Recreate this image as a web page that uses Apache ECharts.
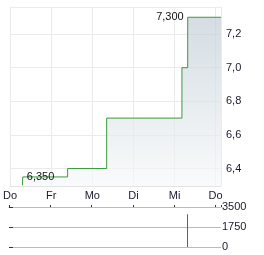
<!DOCTYPE html>
<html><head><meta charset="utf-8">
<script src="https://cdn.jsdelivr.net/npm/echarts@6/dist/echarts.min.js"></script>
<style>html,body{margin:0;padding:0;background:#fff}#c{width:264px;height:255px}</style>
</head><body><div id="c"></div>
<script>
var days = ['Do', 'Fr', 'Mo', 'Di', 'Mi', 'Do'];
var priceX = [0.30, 0.31, 1.40, 2.35, 4.18, 4.32, 5.13];
var priceY = [6.30, 6.35, 6.40, 6.70, 7.00, 7.30, 7.30];
var volX = [4.32];
var volY = [2870];
var volTicks = [0, 1750, 3500];

var fmt = function (v, d) { return v.toFixed(d).replace('.', ','); };
var priceData = priceX.map(function (x, i) { return [x, priceY[i]]; });
var volData = volX.map(function (x, i) { return [x, volY[i]]; });

var font = 'Liberation Sans, Arial, sans-serif';
var chart = echarts.init(document.getElementById('c'), null, { renderer: 'canvas' });
chart.setOption({
  animation: false,
  textStyle: { fontFamily: font },
  grid: [
    { left: 9, right: 43, top: 7, height: 179 },
    { left: 9, right: 43, top: 207, height: 40 }
  ],
  xAxis: [
    { type: 'value', gridIndex: 0, min: 0, max: 5.13, interval: 1,
      axisLine: { show: true, onZero: false, lineStyle: { color: '#e4e4e4' } },
      axisTick: { show: false },
      splitLine: { show: true, lineStyle: { color: '#ebebeb', type: 'solid' } },
      axisLabel: { color: '#1a1a2e', fontSize: 11, margin: 4, fontFamily: font, showMaxLabel: false,
        formatter: function (v) { return days[v] !== undefined && Math.abs(v - Math.round(v)) < 1e-6 ? days[v] : ''; } } },
    { type: 'value', gridIndex: 1, min: 0, max: 5.13, interval: 1, position: 'top',
      axisLine: { show: true, onZero: false, lineStyle: { color: '#bbbbbb', type: 'solid', width: 1 } },
      axisTick: { show: true, inside: false, length: 2, lineStyle: { color: '#333' } },
      splitLine: { show: false },
      axisLabel: { show: false } }
  ],
  yAxis: [
    { type: 'value', gridIndex: 0, position: 'right', min: 6.296, max: 7.361, splitNumber: 5,
      axisLine: { show: false }, axisTick: { show: false },
      splitLine: { show: true, lineStyle: { color: '#ebebeb', type: 'solid' } },
      axisLabel: { color: '#1a1a2e', fontSize: 11, margin: 5, fontFamily: font, showMinLabel: false, showMaxLabel: false,
        formatter: function (v) { return fmt(v, 1); } } },
    { type: 'value', gridIndex: 1, position: 'right', min: volTicks[0], max: volTicks[2], interval: volTicks[1],
      axisLine: { show: false },
      axisTick: { show: true, length: 4, lineStyle: { color: '#333' } },
      splitLine: { show: true, showMinLine: true, showMaxLine: true, lineStyle: { color: '#bbbbbb', type: 'solid', width: 1 } },
      axisLabel: { color: '#1a1a2e', fontSize: 11, margin: 1, fontFamily: font,
        formatter: function (v) { return String(v); } } }
  ],
  series: [
    { type: 'line', xAxisIndex: 0, yAxisIndex: 0, step: 'end', data: priceData, symbol: 'none',
      lineStyle: { color: '#3c9a3c', width: 1 },
      areaStyle: { color: new echarts.graphic.LinearGradient(0, 0, 0, 1, [
        { offset: 0, color: '#c2ced6' }, { offset: 1, color: '#f6f8f9' }]) },
      markPoint: {
        symbol: 'circle', symbolSize: 0, silent: true,
        label: { color: '#111', fontSize: 11, fontFamily: font },
        data: [
          { coord: priceData[1], value: fmt(priceY[1], 3), label: { position: 'right', distance: 4, formatter: '{c}' } },
          { coord: priceData[5], value: fmt(priceY[5], 3), label: { position: 'left', distance: 4, formatter: '{c}' } }
        ]
      } },
    { type: 'bar', xAxisIndex: 1, yAxisIndex: 1, data: volData, barWidth: 1,
      itemStyle: { color: '#1f8a1f' } }
  ]
});
</script></body></html>
